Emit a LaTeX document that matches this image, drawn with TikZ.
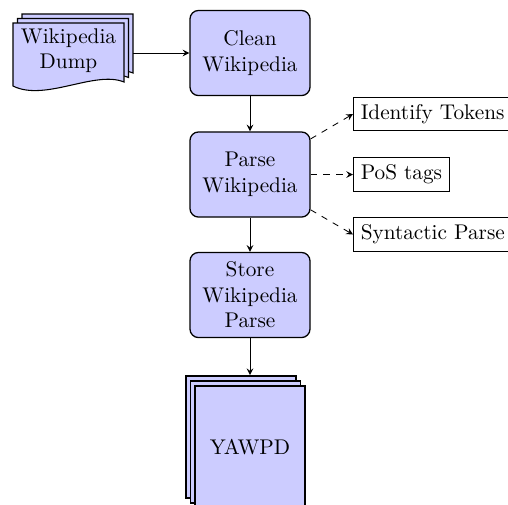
\documentclass[tikz,border=0pt]{standalone}
\usetikzlibrary{arrows}
\begin{document}
\begin{tikzpicture}[x=0.47pt,y=-0.47pt,
  procbox/.style={draw, line width=0.6pt, rounded corners=4pt, fill=blue!20,
    minimum width=56.4pt, minimum height=40pt, align=center, inner sep=2pt},
  sidebox/.style={draw, line width=0.5pt, fill=white, inner sep=3.4pt, anchor=west},
  docsheet/.style={draw, line width=0.9pt, fill=blue!20, minimum width=51.7pt, minimum height=57.3pt},
  dumpsheet/.style={draw, line width=0.5pt, fill=blue!20},
  flow/.style={-stealth, line width=0.4pt},
  sideflow/.style={-stealth, line width=0.4pt, dashed}]
\useasboundingbox (0,0) rectangle (508,504);
\clip (0,0) rectangle (508,504);

% Wikipedia Dump stack
\foreach \s in {9,4.5,0}{
  \begin{scope}[shift={(\s,-\s)}]
    \path[dumpsheet] (13,23) -- (124,23) -- (124,82) .. controls (95,70) and (45,102) .. (13,86) -- cycle;
  \end{scope}
}
\node[align=center] (dump) at (68.5,50.5) {Wikipedia\\Dump};
\coordinate (dumpout) at (133,53);

% main process
\node[procbox] (clean) at (250,53) {Clean\\Wikipedia};
\node[procbox] (parse) at (250,174.5) {Parse\\Wikipedia};
\node[procbox] (store) at (250,295) {Store\\Wikipedia\\Parse};

% YAWPD stack
\node[docsheet] (yback) at (241,437) {};
\node[docsheet] (ymid) at (245.5,442) {};
\node[docsheet] (yawpd) at (250,447) {YAWPD};

% side tasks
\node[sidebox] (tok) at (353,114) {Identify Tokens};
\node[sidebox] (pos) at (353,174.5) {PoS tags};
\node[sidebox] (syn) at (353,234.5) {Syntactic Parse};

% connectors
\draw[flow] (dumpout) -- (dumpout -| clean.west);
\draw[flow] (clean) -- (parse);
\draw[flow] (parse) -- (store);
\draw[flow] (store.south) -- (store.south |- yback.north);
\draw[sideflow] (parse) -- (tok.west);
\draw[sideflow] (parse) -- (pos);
\draw[sideflow] (parse) -- (syn.west);
\end{tikzpicture}
\end{document}
